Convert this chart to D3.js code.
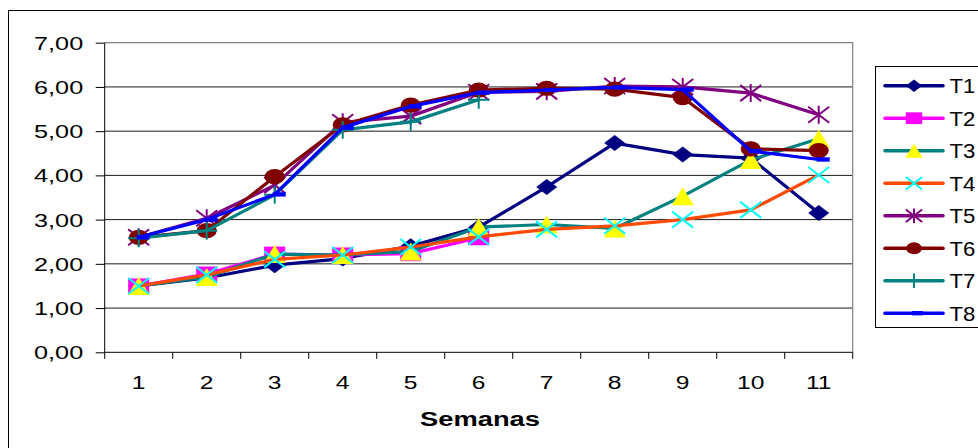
<!DOCTYPE html>
<html>
<head>
<meta charset="utf-8">
<script src="https://cdn.jsdelivr.net/npm/d3@7"></script>
<style>
  html, body { margin: 0; padding: 0; background: #fff; }
  svg { display: block; }
  text { font-family: Arial, "Liberation Sans", sans-serif; fill: #000; }
</style>
</head>
<body>
<svg id="chart" width="978" height="448"></svg>
<script>
// Weeks on the x axis
const semanas = ["1", "2", "3", "4", "5", "6", "7", "8", "9", "10", "11"];
const yTicks = [0, 1, 2, 3, 4, 5, 6, 7];

// Treatment series (null = not measured)
const T1 = [1.50, 1.68, 1.97, 2.12, 2.40, 2.83, 3.74, 4.73, 4.47, 4.39, 3.15];
const T2 = [1.50, 1.77, 2.22, 2.20, 2.23, 2.59, null, null, null, null, null];
const T3 = [1.50, 1.70, 2.22, 2.20, 2.28, 2.83, 2.89, 2.80, 3.53, 4.35, 4.83];
const T4 = [1.50, 1.75, 2.10, 2.20, 2.38, 2.61, 2.78, 2.86, 3.00, 3.22, 4.01];
const T5 = [2.60, 3.03, 3.78, 5.20, 5.34, 5.88, 5.90, 6.02, 6.00, 5.86, 5.37];
const T6 = [2.60, 2.75, 3.97, 5.14, 5.59, 5.93, 5.97, 5.95, 5.76, 4.60, 4.56];
const T7 = [2.58, 2.75, 3.56, 5.03, 5.21, 5.71, null, null, null, null, null];
const T8 = [2.60, 3.00, 3.57, 5.08, 5.56, 5.87, 5.93, 5.99, 5.94, 4.55, 4.36];

const seriesNames = ["T1", "T2", "T3", "T4", "T5", "T6", "T7", "T8"];
const seriesValues = [T1, T2, T3, T4, T5, T6, T7, T8];

// Line colour, marker shape and marker colour for each treatment
const styles = {
  T1: { line: "#000080", marker: "diamond",  fill: "#000080" },
  T2: { line: "#FF00FF", marker: "square",   fill: "#FF00FF" },
  T3: { line: "#008080", marker: "triangle", fill: "#FFFF00" },
  T4: { line: "#FF4A00", marker: "x",        fill: "#00FFFF" },
  T5: { line: "#800080", marker: "star",     fill: "#800080" },
  T6: { line: "#800000", marker: "circle",   fill: "#800000" },
  T7: { line: "#008080", marker: "plus",     fill: "#008080" },
  T8: { line: "#0000FF", marker: "dash",     fill: "#0000FF" }
};

const svg = d3.select("#chart");

// Outer chart frame
svg.append("rect")
  .attr("x", 8.5).attr("y", 10.5).attr("width", 1000).attr("height", 500)
  .attr("fill", "#fff").attr("stroke", "#000").attr("stroke-width", 1);

const plot = { left: 104.7, right: 852.7, top: 42.7, bottom: 352.3 };

const x = d3.scaleBand().domain(semanas).range([plot.left, plot.right]).padding(0);
const cx = d => x(d) + x.bandwidth() / 2;
const y = d3.scaleLinear().domain([0, 7]).range([plot.bottom, plot.top]);

// Horizontal gridlines
svg.append("g")
  .selectAll("line")
  .data(yTicks.filter(t => t > 0 && t < 7))
  .join("line")
  .attr("x1", plot.left).attr("x2", plot.right)
  .attr("y1", d => y(d)).attr("y2", d => y(d))
  .attr("stroke", "#1a1a1a").attr("stroke-width", 1);

// Plot area border (top and right, grey)
svg.append("path")
  .attr("d", `M${plot.left},${y(7)}H${plot.right}V${plot.bottom}`)
  .attr("fill", "none").attr("stroke", "#808080").attr("stroke-width", 1.2);

// Y axis
const stretch = 1.33;
const yAxis = svg.append("g")
  .attr("transform", `translate(${plot.left},0)`)
  .call(d3.axisLeft(y).tickValues(yTicks).tickSize(9)
    .tickFormat(d => d.toFixed(2).replace(".", ",")));
yAxis.select(".domain").attr("stroke", "#000").attr("d", `M0,${plot.top}V${plot.bottom}`);
yAxis.selectAll(".tick line").attr("stroke", "#000");
yAxis.selectAll(".tick text")
  .attr("x", -21.5 / stretch)
  .attr("dy", "0.34em")
  .attr("transform", `scale(${stretch},1)`)
  .style("font-size", "19px")
  .style("font-family", "Arial, 'Liberation Sans', sans-serif")
  .attr("fill", "#000");

// X axis: line, ticks at category boundaries, labels at centres
const xAxis = svg.append("g")
  .attr("transform", `translate(0,${plot.bottom})`)
  .call(d3.axisBottom(x).tickSize(0).tickPadding(0));
xAxis.select(".domain").attr("stroke", "#000").attr("d", `M${plot.left},0H${plot.right}`);
xAxis.selectAll(".tick text")
  .attr("y", 36.7).attr("dy", 0)
  .attr("transform", `scale(${stretch},1)`)
  .style("font-size", "18.5px")
  .style("font-family", "Arial, 'Liberation Sans', sans-serif")
  .attr("fill", "#000");
xAxis.selectAll(".tick").attr("transform", d => `translate(${cx(d)},0)`);

const bounds = semanas.map(d => x(d)).concat([x(semanas[semanas.length - 1]) + x.bandwidth()]);
svg.append("g")
  .selectAll("line")
  .data(bounds)
  .join("line")
  .attr("x1", d => d).attr("x2", d => d)
  .attr("y1", plot.bottom).attr("y2", plot.bottom + 6.5)
  .attr("stroke", "#000").attr("stroke-width", 1);

// Axis title
svg.append("text")
  .attr("transform", `translate(480,426) scale(1.3,1)`)
  .attr("text-anchor", "middle")
  .style("font-size", "21px")
  .style("font-weight", "bold")
  .text("Semanas");

// Marker drawing (markers are wider than tall, as in the rest of the chart)
function drawMarker(g, type, px, py, fill, lineColor, scale) {
  const s = scale || 1;
  const w = 10.5 * s, h = 8 * s;
  switch (type) {
    case "diamond":
      g.append("path")
        .attr("d", `M${px},${py - h}L${px + w},${py}L${px},${py + h}L${px - w},${py}Z`)
        .attr("fill", fill);
      break;
    case "square":
      g.append("rect")
        .attr("x", px - w).attr("y", py - 7.5 * s)
        .attr("width", 2 * w).attr("height", 15 * s)
        .attr("fill", fill);
      break;
    case "triangle":
      g.append("path")
        .attr("d", `M${px},${py - 9 * s}L${px + 11 * s},${py + 9 * s}L${px - 11 * s},${py + 9 * s}Z`)
        .attr("fill", fill);
      break;
    case "x":
      g.append("path")
        .attr("d", `M${px - w},${py - h}L${px + w},${py + h}M${px - w},${py + h}L${px + w},${py - h}`)
        .attr("stroke", fill).attr("stroke-width", 2).attr("fill", "none");
      break;
    case "star":
      g.append("path")
        .attr("d", `M${px - w},${py - h}L${px + w},${py + h}M${px - w},${py + h}L${px + w},${py - h}M${px},${py - h - 1}L${px},${py + h + 1}`)
        .attr("stroke", fill).attr("stroke-width", 2).attr("fill", "none");
      break;
    case "circle":
      g.append("ellipse")
        .attr("cx", px).attr("cy", py).attr("rx", 10 * s).attr("ry", 7.6 * s)
        .attr("fill", fill);
      break;
    case "plus":
      g.append("path")
        .attr("d", `M${px - w},${py}L${px + w},${py}M${px},${py - h - 1}L${px},${py + h + 1}`)
        .attr("stroke", fill).attr("stroke-width", 2).attr("fill", "none");
      break;
    case "dash":
      g.append("rect")
        .attr("x", px - 2).attr("y", py - 2.2)
        .attr("width", 13).attr("height", 4.4)
        .attr("fill", fill);
      break;
  }
}

// Series: line first, then markers, drawn in order so T8 ends on top
const line = d3.line()
  .defined(d => d.v !== null)
  .x(d => cx(d.c))
  .y(d => y(d.v));

seriesNames.forEach((name, i) => {
  const st = styles[name];
  const pts = semanas.map((c, j) => ({ c, v: seriesValues[i][j] }));
  const g = svg.append("g").attr("class", "series-" + name);
  g.append("path")
    .datum(pts)
    .attr("d", line)
    .attr("fill", "none")
    .attr("stroke", st.line)
    .attr("stroke-width", 3.2)
    .attr("stroke-linejoin", "round");
  pts.filter(p => p.v !== null).forEach(p => {
    drawMarker(g, st.marker, cx(p.c), y(p.v), st.fill, st.line);
  });
});

// Legend
const legend = svg.append("g");
legend.append("rect")
  .attr("x", 875.5).attr("y", 66.5).attr("width", 200).attr("height", 261)
  .attr("fill", "#fff").attr("stroke", "#000").attr("stroke-width", 1);

seriesNames.forEach((name, i) => {
  const st = styles[name];
  const ly = 85.7 + i * 32.5;
  const row = legend.append("g");
  row.append("line")
    .attr("x1", 885).attr("x2", 943)
    .attr("y1", ly).attr("y2", ly)
    .attr("stroke", st.line).attr("stroke-width", 3.6)
    .attr("stroke-linecap", "round");
  if (st.marker === "dash") {
    row.append("rect").attr("x", 912).attr("y", ly - 2.2).attr("width", 11).attr("height", 4.4).attr("fill", st.fill);
  } else {
    drawMarker(row, st.marker, 914, ly, st.fill, st.line, 0.78);
  }
  row.append("text")
    .attr("transform", `translate(949.5,${ly}) scale(1.08,1)`)
    .attr("dy", "0.36em")
    .style("font-size", "20.5px")
    .text(name);
});
</script>
</body>
</html>
